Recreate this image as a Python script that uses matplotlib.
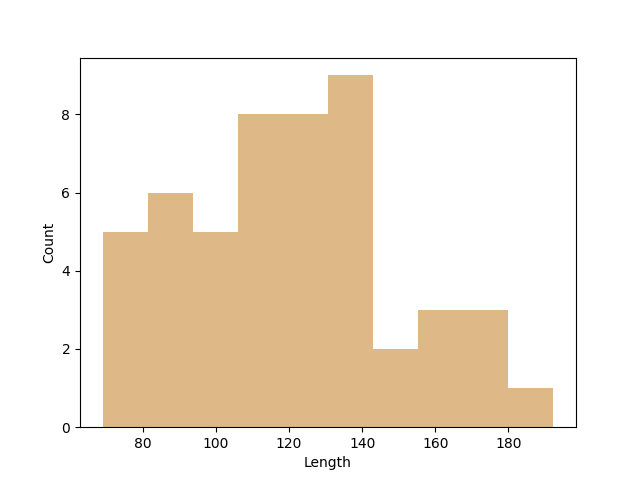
import numpy as np
from matplotlib import pyplot as plt

# histogram: 10 equal bins between min and max length
min_length = 69.0
max_length = 192.3
counts = [5, 6, 5, 8, 8, 9, 2, 3, 3, 1]

edges = np.linspace(min_length, max_length, len(counts) + 1)
centers = (edges[:-1] + edges[1:]) / 2

plt.figure(figsize=(6.4, 4.8), dpi=100)
plt.hist(centers, bins=edges, weights=counts, color='burlywood')
plt.xlabel('Length')
plt.ylabel('Count')
plt.savefig('out.png')
